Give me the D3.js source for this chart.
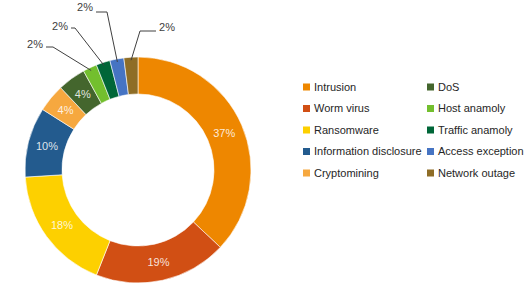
<!DOCTYPE html>
<html>
<head>
<meta charset="utf-8">
<script src="https://cdn.jsdelivr.net/npm/d3@7"></script>
<style>
  body { margin: 0; background: #fff; }
  svg { display: block; font-family: "Liberation Sans", Arial, sans-serif; }
</style>
</head>
<body>
<svg id="chart" width="530" height="287"></svg>
<script>
// Incident categories and their share (%)
const categories = ["Intrusion", "Worm virus", "Ransomware", "Information disclosure", "Cryptomining",
    "DoS", "Host anamoly", "Traffic anamoly", "Access exception", "Network outage"];
const shares = [37, 19, 18, 10, 4, 4, 2, 2, 2, 2];
const colors = ["#EE8700", "#D14F14", "#FDD000", "#235B8E", "#F6A83F",
    "#44662D", "#73BF2E", "#006638", "#4674C3", "#8E6D26"];
const legendOrder = [0, 1, 2, 3, 4, 5, 6, 7, 8, 9];

const svg = d3.select("#chart");
const cx = 138, cy = 170;
const outerR = 113, innerR = 76;

const data = categories.map((c, i) => ({ name: c, value: shares[i], color: colors[i] }));

const pie = d3.pie().sort(null).value(d => d.value);
const arcs = pie(data);
const arc = d3.arc().innerRadius(innerR).outerRadius(outerR);
const labelArc = d3.arc().innerRadius(94).outerRadius(94);

const g = svg.append("g").attr("transform", `translate(${cx},${cy})`);

g.selectAll("path.slice")
    .data(arcs)
    .enter()
    .append("path")
    .attr("class", "slice")
    .attr("d", arc)
    .attr("fill", d => d.data.color)
    .attr("stroke", "#fff")
    .attr("stroke-width", 0.6);

// labels inside the ring for the bigger slices
g.selectAll("text.inner")
    .data(arcs.filter(d => d.data.value > 2))
    .enter()
    .append("text")
    .attr("class", "inner")
    .attr("transform", d => `translate(${labelArc.centroid(d)})`)
    .attr("text-anchor", "middle")
    .attr("dy", "0.35em")
    .attr("font-size", 11)
    .attr("fill", "#fff")
    .attr("fill-opacity", 0.85)
    .text(d => d.data.value + "%");

// small slices get leader lines; text/elbow offsets relative to center
const outside = arcs.filter(d => d.data.value <= 2);
const leaderLayout = [
    { tx: -103, ty: -126, ex: -85, ey: -123, anchor: "middle" },
    { tx: -78, ty: -144, ex: -63, ey: -142, anchor: "middle" },
    { tx: -53, ty: -163, ex: -31, ey: -158, anchor: "middle" },
    { tx: 29, ty: -143, ex: 2, ey: -139, anchor: "middle" }
];
const edgeArc = d3.arc().innerRadius(outerR - 3).outerRadius(outerR - 3);

outside.forEach((d, i) => {
    const l = leaderLayout[i];
    const p = edgeArc.centroid(d);
    const startX = l.anchor === "middle" && l.ex > l.tx ? l.tx + 11 : l.tx - 11;
    g.append("polyline")
        .attr("points", [[startX, l.ey], [l.ex, l.ey], p].map(q => q.join(",")).join(" "))
        .attr("fill", "none")
        .attr("stroke", "#404040")
        .attr("stroke-width", 1);
    g.append("text")
        .attr("x", l.tx)
        .attr("y", l.ty)
        .attr("text-anchor", l.anchor)
        .attr("dy", "0.35em")
        .attr("font-size", 11)
        .attr("fill", "#404040")
        .text(d.data.value + "%");
});

// legend, two columns of five
const legend = svg.append("g");
const colX = [303, 427], rowY0 = 87, rowH = 21.5;
legendOrder.forEach((idx, k) => {
    const col = Math.floor(k / 5), row = k % 5;
    const item = legend.append("g")
        .attr("transform", `translate(${colX[col]},${rowY0 + row * rowH})`);
    item.append("rect")
        .attr("x", 0).attr("y", -3.5)
        .attr("width", 7).attr("height", 7)
        .attr("fill", colors[idx]);
    item.append("text")
        .attr("x", 11)
        .attr("dy", "0.35em")
        .attr("font-size", 11)
        .attr("fill", "#262626")
        .text(categories[idx]);
});
</script>
</body>
</html>
